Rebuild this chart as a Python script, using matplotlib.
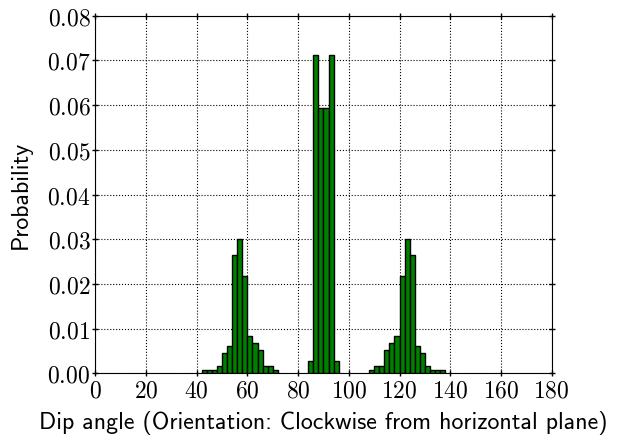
import matplotlib
matplotlib.use("Agg")
import matplotlib.pyplot as plt
import numpy as np

# 2-degree bins, density values per bin (normed histogram)
bin_left = [42, 44, 46, 48, 50, 52, 54, 56, 58, 60, 62, 64, 66, 68, 70,
            84, 86, 88, 90, 92, 94,
            108, 110, 112, 114, 116, 118, 120, 122, 124, 126, 128, 130, 132, 134, 136]
density = [0.0008, 0.0008, 0.0008, 0.0016, 0.0045, 0.0061, 0.0264, 0.0301,
           0.0218, 0.0084, 0.0068, 0.0053, 0.0016, 0.0016, 0.0008,
           0.0027, 0.0713, 0.0594, 0.0594, 0.0713, 0.0027,
           0.0008, 0.0016, 0.0016, 0.0053, 0.0068, 0.0084, 0.0218, 0.0301,
           0.0264, 0.0061, 0.0045, 0.0016, 0.0008, 0.0008, 0.0008]
bin_width = 2
xticks = np.arange(0, 181, 20)
yticks = np.arange(0, 0.081, 0.01)

plt.rcParams['mathtext.fontset'] = 'cm'

fig = plt.figure(figsize=(6.24, 4.42), dpi=100)
ax = fig.add_axes([0.1527, 0.1554, 0.7314, 0.8091])

ax.bar(bin_left, density, width=bin_width, align='edge',
       color='green', edgecolor='black', linewidth=1.0, zorder=3)

ax.set_xlim(0, 180)
ax.set_ylim(0, 0.08)
ax.set_xticks(xticks)
ax.set_yticks(yticks)
ax.set_xticklabels([r'$%d$' % t for t in xticks])
ax.set_yticklabels([r'$%.2f$' % t for t in yticks])
ax.tick_params(labelsize=17, direction='inout', length=5, width=1,
               top=True, right=True, pad=1)
ax.grid(True, color='black', linestyle=':', linewidth=0.8)
ax.set_axisbelow(True)

ax.set_xlabel('Dip angle (Orientation: Clockwise from horizontal plane)',
              fontfamily='cmss10', fontsize=17.2, labelpad=6)
ax.set_ylabel('Probability', fontfamily='cmss10', fontsize=17.2)
ax.yaxis.set_label_coords(-0.139, 0.5)

fig.savefig('out.png', dpi=100)
